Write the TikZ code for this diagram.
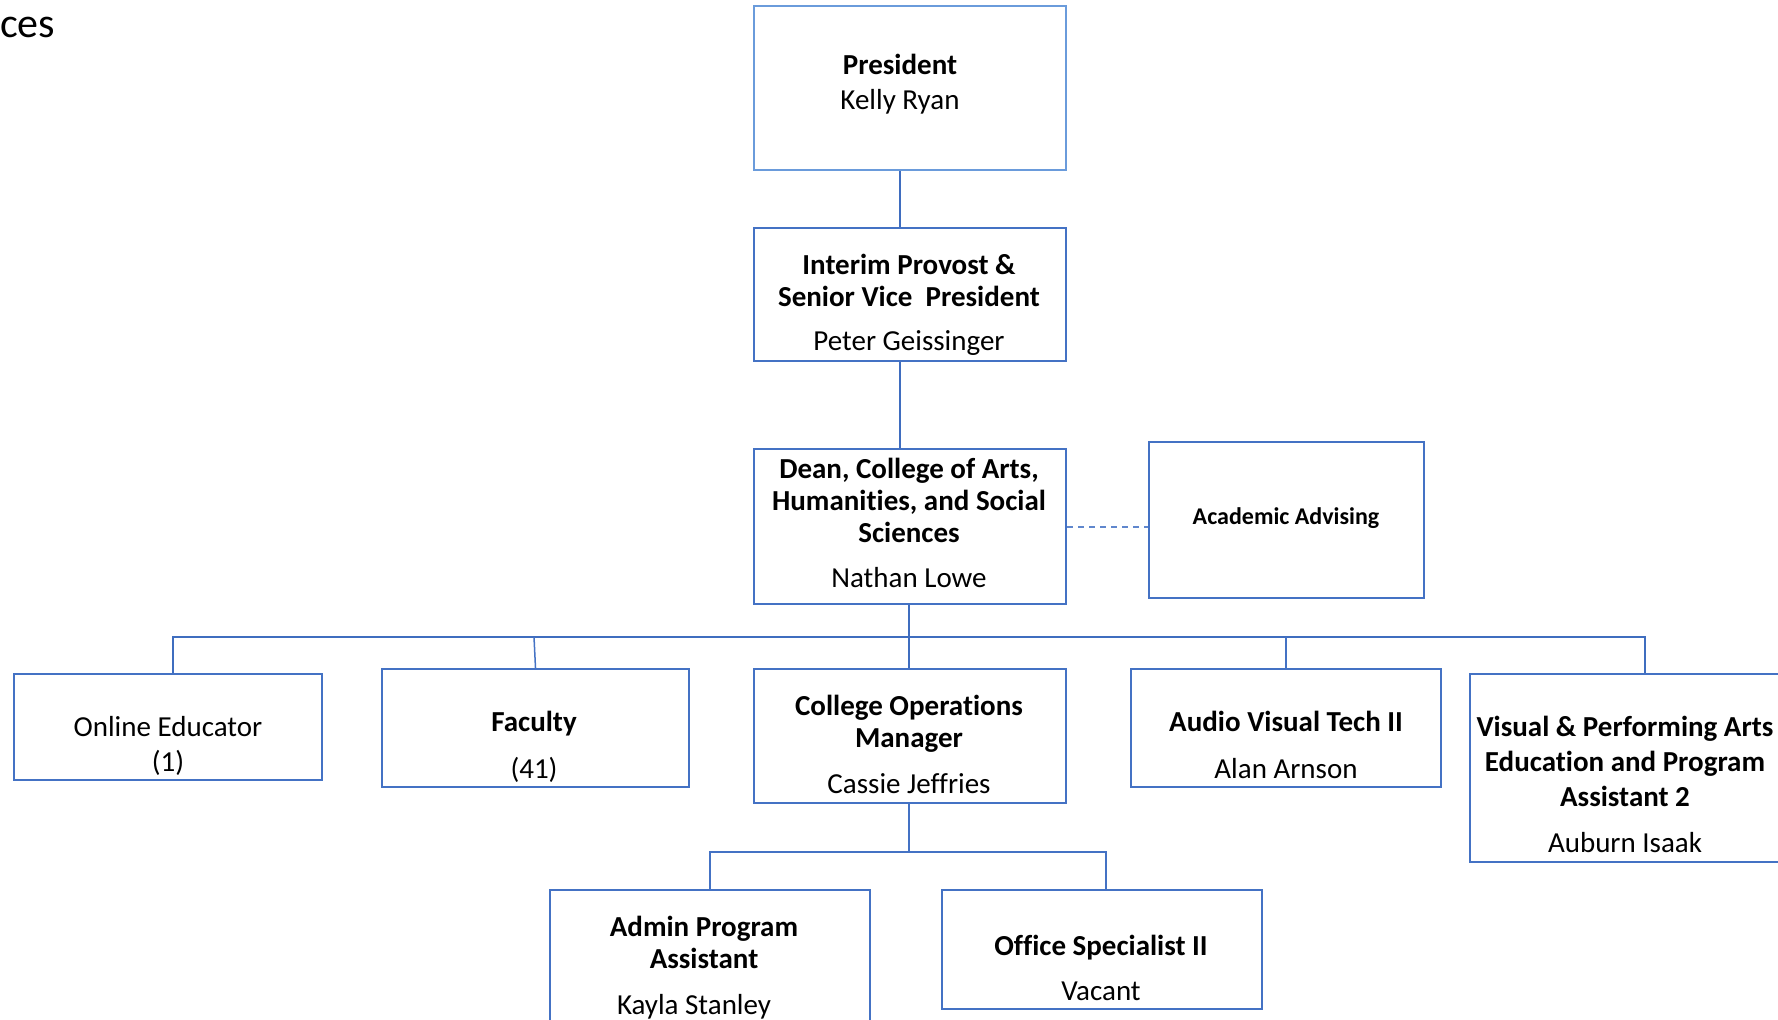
\documentclass[tikz,border=0pt]{standalone}
\usepackage{fontspec}
\setmainfont{Carlito}[RawFeature={-liga;-clig;-dlig;-calt;-rlig}]
\definecolor{bx}{HTML}{4472C4}
\definecolor{bxl}{HTML}{6A9BDB}
\definecolor{ln}{HTML}{3F6DBF}
\begin{document}
\begin{tikzpicture}[x=1pt,y=-1pt,
  box/.style={draw=bx,line width=2.4pt,fill=white,inner sep=0pt},
  lbox/.style={draw=bxl,line width=1.8pt,fill=white,inner sep=0pt},
  conn/.style={draw=ln,line width=2.7pt},
  tconn/.style={draw=bx,line width=1.5pt},
  dconn/.style={draw=bx!85!white,line width=2pt,dash pattern=on 6pt off 5pt},
  ttl/.style={font=\fontsize{29}{32}\selectfont\bfseries,align=center,anchor=base,inner sep=0pt},
  nm/.style={font=\fontsize{29}{35}\selectfont,align=center,anchor=base,inner sep=0pt}]
\useasboundingbox[fill=white] (0,0) rectangle (1778,1020);

% boxes
\node[lbox,minimum width=312,minimum height=164] (pres) at (910,88) {};
\node[box,minimum width=312,minimum height=133] (prov) at (910,294.5) {};
\node[box,minimum width=312,minimum height=155] (dean) at (910,526.5) {};
\node[box,minimum width=275,minimum height=156] (aa) at (1286.5,520) {};
\node[box,minimum width=308,minimum height=106] (online) at (168,727) {};
\node[box,minimum width=307,minimum height=118] (fac) at (535.5,728) {};
\node[box,minimum width=312,minimum height=134] (ops) at (910,736) {};
\node[box,minimum width=310,minimum height=118] (av) at (1286,728) {};
\node[box,minimum width=320,minimum height=188] (vpa) at (1630,768) {};
\node[box,minimum width=320,minimum height=150] (admin) at (710,965) {};
\node[box,minimum width=320,minimum height=119] (office) at (1102,949.5) {};

% coordinates
\coordinate (c900) at (900,0);
\coordinate (c909) at (909,0);
\coordinate (busL) at (173,637);
\coordinate (busR) at (1645,637);
\coordinate (subL) at (710,852);
\coordinate (subR) at (1106,852);

% connectors
\draw[conn] (pres.south -| c900) -- (prov.north -| c900);
\draw[conn] (prov.south -| c900) -- (dean.north -| c900);
\draw[conn] (dean.south -| c909) -- (c909 |- busL) -- (ops.north -| c909);
\draw[conn] (online.north -| busL) -- (busL) -- (busR) -- (vpa.north -| busR);
\draw[tconn] (fac.north) -- ([xshift=-1.5pt]fac.north |- busL);
\draw[tconn] (av.north) -- (av.north |- busL);
\draw[dconn] (dean.east) -- (dean.east -| aa.west);
\draw[tconn] (ops.south -| c909) -- (c909 |- subL);
\draw[tconn] (admin.north -| subL) -- (subL) -- (subR) -- (office.north -| subR);

% texts
\node[font=\fontsize{42}{48}\selectfont,anchor=base west,inner sep=0pt] (hdr) at (0,37) {ces};
\node[ttl] (presT) at (900,74) {President};
\node[nm] (presN) at (900,109) {Kelly Ryan};
\node[ttl] (provT) at (909,306) {Interim Provost \&\\Senior Vice\ \ President};
\node[nm] (provN) at (909,350) {Peter Geissinger};
\node[ttl] (deanT) at (909,542) {Dean, College of Arts,\\Humanities, and Social\\Sciences};
\node[nm] (deanN) at (909,587) {Nathan Lowe};
\node[ttl,font=\fontsize{24}{28}\selectfont\bfseries] (aaT) at (1286,524) {Academic Advising};
\node[nm] (onlineT) at (168,771) {Online Educator\\(1)};
\node[ttl] (facT) at (534,731) {Faculty};
\node[nm] (facN) at (534,778) {(41)};
\node[ttl] (opsT) at (909,747) {College Operations\\Manager};
\node[nm] (opsN) at (909,793) {Cassie Jeffries};
\node[ttl] (avT) at (1286,731) {Audio Visual Tech II};
\node[nm] (avN) at (1286,778) {Alan Arnson};
\node[ttl,font=\fontsize{29}{35}\selectfont\bfseries] (vpaT) at (1625,806) {Visual \& Performing Arts\\Education and Program\\Assistant 2};
\node[nm] (vpaN) at (1625,852) {Auburn Isaak};
\node[ttl] (adminT) at (704,968) {Admin Program\\Assistant};
\node[nm] (adminN) at (694,1014) {Kayla Stanley};
\node[ttl] (officeT) at (1101,955) {Office Specialist II};
\node[nm] (officeN) at (1101,1000) {Vacant};
\end{tikzpicture}
\end{document}
